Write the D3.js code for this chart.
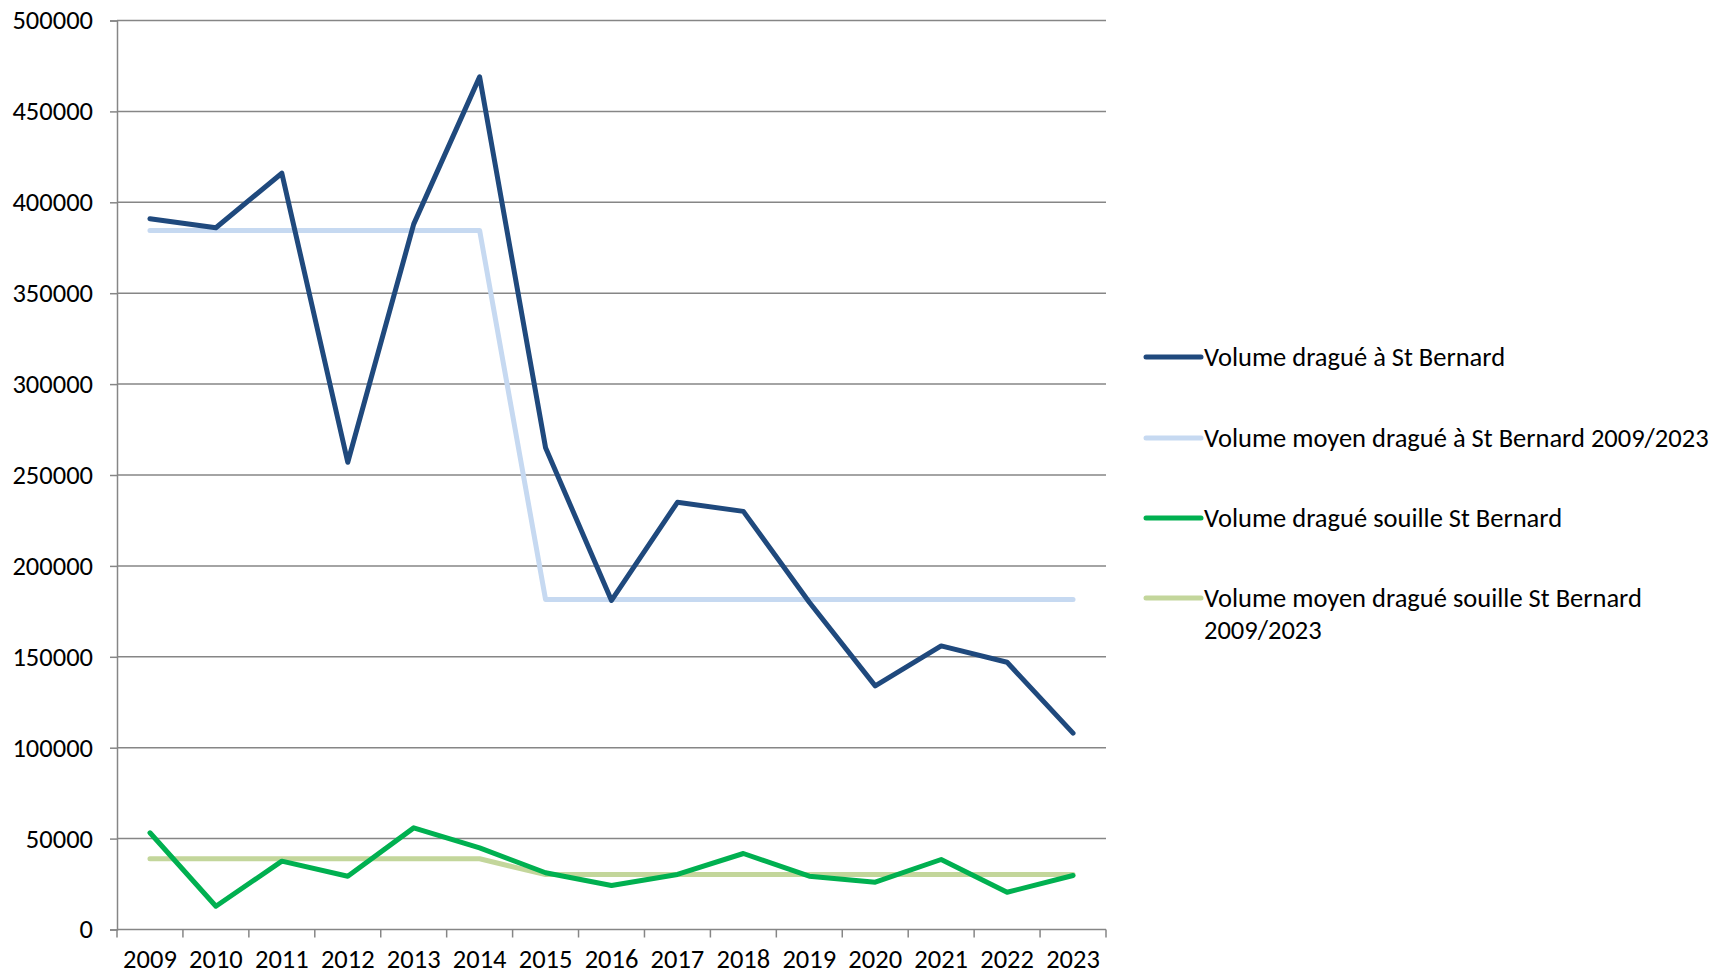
<!DOCTYPE html>
<html><head><meta charset="utf-8">
<script src="https://cdn.jsdelivr.net/npm/d3@7"></script>
<style>
html,body{margin:0;padding:0;background:#fff;}
svg text{font-family:Carlito, Lato, "Open Sans", sans-serif;fill:#000;}
</style></head>
<body><svg id="c" width="1717" height="975"></svg>
<script>
const years = ["2009","2010","2011","2012","2013","2014","2015","2016","2017","2018","2019","2020","2021","2022","2023"];
const volStBernard = [391000,386000,416000,257000,388000,469000,265000,181000,235000,230000,180000,134000,156000,147000,108000];
const volMoyenStBernard = [384500,384500,384500,384500,384500,384500,181500,181500,181500,181500,181500,181500,181500,181500,181500];
const volSouille = [53200,12800,37600,29300,55900,44900,31200,24200,30300,41800,29300,26000,38500,20500,29700];
const volMoyenSouille = [38900,38900,38900,38900,38900,38900,30200,30200,30200,30200,30200,30200,30200,30200,30200];
const yTicks = [0,50000,100000,150000,200000,250000,300000,350000,400000,450000,500000];
const seriesNames = ["Volume dragué à St Bernard","Volume moyen dragué à St Bernard 2009/2023","Volume dragué souille St Bernard","Volume moyen dragué souille St Bernard 2009/2023"];
const seriesColors = ["#1F497D","#C6D9F1","#00B050","#C3D69B"];

const FS = 26.5;
const FF = "Carlito, Lato, 'Open Sans', sans-serif";
const svg = d3.select("#c");
const L = 117, R = 1106, T = 20.5, B = 929.5;
const x = d3.scaleBand().domain(years).range([L, R]).padding(0);
const y = d3.scaleLinear().domain([0, 500000]).range([B, T]);
const grid = "#868686";

// gridlines
svg.append("g").selectAll("line").data(yTicks.filter(d => d > 0)).join("line")
  .attr("x1", L).attr("x2", R).attr("y1", d => y(d)).attr("y2", d => y(d))
  .attr("stroke", grid).attr("stroke-width", 1.5);

// y axis
const ya = svg.append("g").attr("transform", `translate(${L},0)`)
  .call(d3.axisLeft(y).tickValues(yTicks).tickFormat(d3.format("d")).tickSize(7).tickPadding(17));
ya.select(".domain").attr("stroke", grid).attr("stroke-width", 1.5);
ya.selectAll(".tick line").attr("stroke", grid).attr("stroke-width", 1.5);
ya.selectAll("text").attr("font-size", FS).attr("font-family", FF).attr("fill", "#000");

// x axis
const xa = svg.append("g").attr("transform", `translate(0,${B})`)
  .call(d3.axisBottom(x).tickSizeOuter(0).tickSize(0).tickPadding(20));
xa.select(".domain").attr("stroke", grid).attr("stroke-width", 1.5).attr("d", `M${L},0H${R}`);
xa.selectAll("text").attr("font-size", FS).attr("font-family", FF).attr("fill", "#000");
// category boundary ticks
const bounds = years.map(d => x(d)).concat([x(years[years.length-1]) + x.bandwidth()]);
xa.append("g").selectAll("line").data(bounds).join("line")
  .attr("x1", d => d).attr("x2", d => d).attr("y1", 0).attr("y2", 8)
  .attr("stroke", grid).attr("stroke-width", 1.5);

const cx = d => x(d) + x.bandwidth() / 2;
const line = d3.line().x((v, i) => cx(years[i])).y(v => y(v));
const allSeries = [volStBernard, volMoyenStBernard, volSouille, volMoyenSouille];
const drawOrder = [1, 0, 3, 2];
drawOrder.forEach(k => {
  svg.append("path").datum(allSeries[k]).attr("d", line)
    .attr("fill", "none").attr("stroke", seriesColors[k]).attr("stroke-width", 5)
    .attr("stroke-linejoin", "round").attr("stroke-linecap", "round");
});

// legend
const legY = [357, 438, 518, 598];
const lg = svg.append("g");
seriesNames.forEach((name, i) => {
  lg.append("line").attr("x1", 1146).attr("x2", 1201).attr("y1", legY[i]).attr("y2", legY[i])
    .attr("stroke", seriesColors[i]).attr("stroke-width", 5).attr("stroke-linecap", "round");
  const t = lg.append("text").attr("x", 1204).attr("y", legY[i]).attr("dy", "0.35em")
    .attr("font-size", FS);
  if (i === 3) {
    t.append("tspan").attr("x", 1204).text("Volume moyen dragué souille St Bernard");
    t.append("tspan").attr("x", 1204).attr("dy", 32).text("2009/2023");
  } else {
    t.text(name);
  }
});
</script></body></html>
